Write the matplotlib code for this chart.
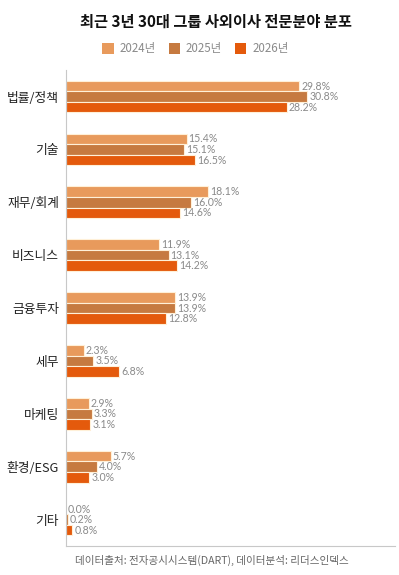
import matplotlib
matplotlib.use("Agg")
import matplotlib.pyplot as plt
from matplotlib.patches import Patch
import numpy as np

plt.rcParams['font.family'] = ['Noto Sans CJK KR', 'DejaVu Sans']

categories = ["법률/정책", "기술", "재무/회계", "비즈니스", "금융투자", "세무", "마케팅", "환경/ESG", "기타"]
series_names = ["2024년", "2025년", "2026년"]
v2024 = [29.8, 15.4, 18.1, 11.9, 13.9, 2.3, 2.9, 5.7, 0.0]
v2025 = [30.8, 15.1, 16.0, 13.1, 13.9, 3.5, 3.3, 4.0, 0.2]
v2026 = [28.2, 16.5, 14.6, 14.2, 12.8, 6.8, 3.1, 3.0, 0.8]
colors = ["#E89A5C", "#C67A40", "#E45A0C"]

fig = plt.figure(figsize=(3.99, 5.75), dpi=100)
ax = fig.add_axes([0.1654, 0.0504, 0.8246, 0.8276])

y = np.arange(len(categories))
offsets = [-0.2, 0.0, 0.2]
for vals, off, col in zip([v2024, v2025, v2026], offsets, colors):
    bars = ax.barh(y + off, vals, height=0.2, color=col, edgecolor="#FFF0D8", linewidth=0.8)
    for b, v in zip(bars, vals):
        ax.text(b.get_width() + 0.25, b.get_y() + b.get_height() / 2, f"{v:.1f}%",
                va="center", ha="left", fontsize=7.6, color="#8A8A8A", family=['Lato', 'DejaVu Sans'])

ax.set_xlim(0, 42)
ax.set_ylim(len(categories) - 0.5, -0.5)
ax.set_yticks(y)
ax.set_yticklabels(categories, fontsize=9.2, color="#222222")
ax.set_xticks([])
ax.tick_params(axis='y', length=0, pad=5)
for s in ["top", "right"]:
    ax.spines[s].set_visible(False)
for s in ["left", "bottom"]:
    ax.spines[s].set_color("#C8C8C8")
    ax.spines[s].set_linewidth(0.8)

fig.text(0.54, 0.963, "최근 3년 30대 그룹 사외이사 전문분야 분포", ha="center", va="center",
         fontsize=11, fontweight="bold", color="#111111")

handles = [Patch(facecolor=c, edgecolor="none") for c in colors]
fig.legend(handles, series_names, loc="center", bbox_to_anchor=(0.49, 0.915), ncol=3,
           frameon=False, fontsize=8.3, handlelength=1.0, handleheight=1.0, handletextpad=0.5,
           columnspacing=1.1, labelcolor="#8A8A8A")

fig.text(0.53, 0.026, "데이터출처: 전자공시시스템(DART), 데이터분석: 리더스인덱스", ha="center", va="center",
         fontsize=7.6, color="#666666")

fig.savefig("out.png", dpi=100)
